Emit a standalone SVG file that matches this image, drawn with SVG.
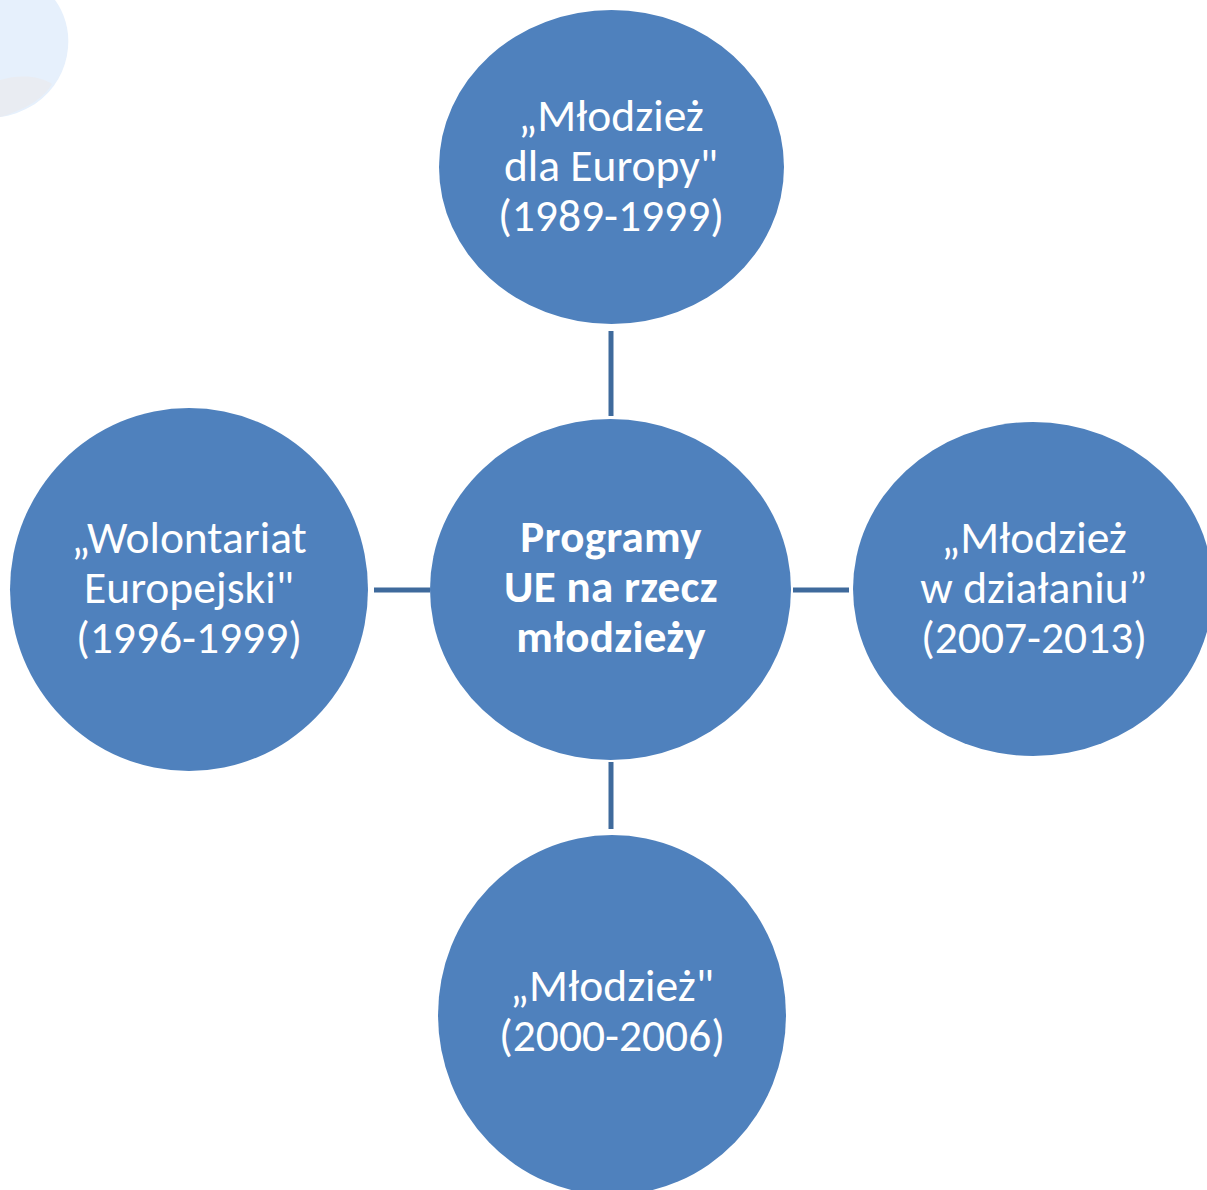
<svg xmlns="http://www.w3.org/2000/svg" width="1207" height="1190" viewBox="0 0 1207 1190">
<style>
.n{fill:#4F81BD}
.t{fill:#fff;font-family:Carlito,"Liberation Sans",sans-serif;font-size:45.5px;text-anchor:middle}
.b{font-weight:bold;font-size:45px;letter-spacing:0.3px}
.c{stroke:#3F6A9C;stroke-width:5;fill:none}
</style>
<rect width="1207" height="1190" fill="#fff"/>
<path d="M0,0 L55,0 C64,12 70,30 68,48 C66,70 55,90 35,104 C22,112 10,116 0,117 Z" fill="#E6F0FC"/>
<path d="M0,80 C20,74 40,76 52,84 C44,98 25,110 0,117 Z" fill="#E9ECF2"/>
<g id="connectors">
<line class="c" x1="611" y1="331" x2="611" y2="416"/>
<line class="c" x1="374" y1="590" x2="430" y2="590"/>
<line class="c" x1="793" y1="590" x2="849" y2="590"/>
<line class="c" x1="611" y1="762" x2="611" y2="829"/>
</g>
<g id="center">
<ellipse class="n" cx="610.5" cy="589.5" rx="180.5" ry="170.5"/>
<text class="t b"><tspan x="611" y="552">Programy</tspan><tspan x="611" y="602">UE na rzecz</tspan><tspan x="611" y="652">młodzieży</tspan></text>
</g>
<g id="top">
<ellipse class="n" cx="611.5" cy="167" rx="172.5" ry="157"/>
<text class="t"><tspan x="611" y="131">„Młodzież</tspan><tspan x="611" y="181">dla Europy"</tspan><tspan x="611" y="231">(1989-1999)</tspan></text>
</g>
<g id="left">
<ellipse class="n" cx="189" cy="589.5" rx="179" ry="181.5"/>
<text class="t"><tspan x="189" y="553">„Wolontariat</tspan><tspan x="189" y="603">Europejski"</tspan><tspan x="189" y="653">(1996-1999)</tspan></text>
</g>
<g id="right">
<ellipse class="n" cx="1033" cy="589" rx="180" ry="167"/>
<text class="t"><tspan x="1034" y="553">„Młodzież</tspan><tspan x="1034" y="603">w działaniu”</tspan><tspan x="1034" y="653">(2007-2013)</tspan></text>
</g>
<g id="bottom">
<ellipse class="n" cx="612" cy="1015" rx="174" ry="180"/>
<text class="t"><tspan x="612" y="1001">„Młodzież"</tspan><tspan x="612" y="1051">(2000-2006)</tspan></text>
</g>
</svg>
